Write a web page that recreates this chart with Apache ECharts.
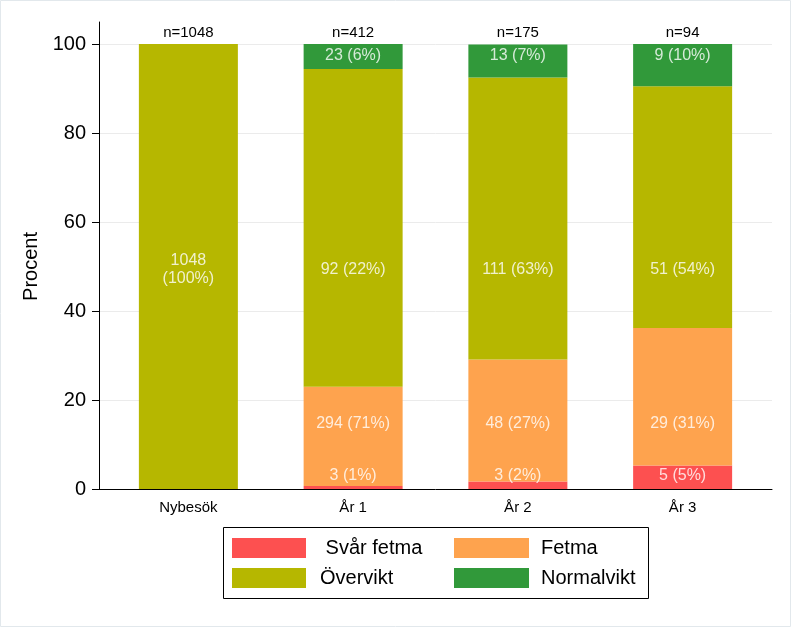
<!DOCTYPE html>
<html><head><meta charset="utf-8">
<script src="https://cdn.jsdelivr.net/npm/echarts@6/dist/echarts.min.js"></script>
<style>html,body{margin:0;padding:0;background:#fff}#c{width:793px;height:628px}</style>
</head><body><div id="c"></div>
<script>
var categories = ['Nybesök', 'År 1', 'År 2', 'År 3'];
var nLabels = ['n=1048', 'n=412', 'n=175', 'n=94'];
var seriesNames = ['Svår fetma', 'Fetma', 'Övervikt', 'Normalvikt'];
var svarFetma = [null, 0.7, 1.7, 5.3];
var fetma = [null, 22.3, 27.4, 30.9];
var overvikt = [100, 71.4, 63.4, 54.3];
var normalvikt = [null, 5.6, 7.4, 9.6];
var svarLabels = ['', '3 (1%)', '3 (2%)', '5 (5%)'];
var fetmaLabels = ['', '294 (71%)', '48 (27%)', '29 (31%)'];
var overviktLabels = ['1048\n(100%)', '92 (22%)', '111 (63%)', '51 (54%)'];
var normalLabels = ['', '23 (6%)', '13 (7%)', '9 (10%)'];
var yTicks = [0, 20, 40, 60, 80, 100];

var colors = ['#fd5050', '#fea34e', '#b6b700', '#31993a'];
var labelLevel = [3.0, 14.6, 49.3, 97.3];
var values = [svarFetma, fetma, overvikt, normalvikt];
var labelTexts = [svarLabels, fetmaLabels, overviktLabels, normalLabels];
var FONT = 'Liberation Sans, Arial, sans-serif';

var series = [];
seriesNames.forEach(function (name, k) {
  series.push({
    name: name, type: 'bar', stack: 'total', barWidth: 99,
    xAxisIndex: 0, yAxisIndex: 0,
    itemStyle: { color: colors[k] },
    data: values[k], silent: true
  });
});
seriesNames.forEach(function (name, k) {
  var d = [];
  labelTexts[k].forEach(function (t, i) { if (t) d.push({ value: [i, labelLevel[k]], txt: t }); });
  series.push({
    type: 'scatter', xAxisIndex: 0, yAxisIndex: 0, symbolSize: 1,
    itemStyle: { color: 'rgba(0,0,0,0)' }, silent: true, z: 5,
    label: {
      show: true, position: 'inside', color: '#ffffff', fontSize: 16, lineHeight: 18,
      fontFamily: FONT,
      formatter: function (p) { return p.data.txt; }
    },
    data: d
  });
});

var chart = echarts.init(document.getElementById('c'), null, { renderer: 'canvas' });
chart.setOption({
  animation: false,
  backgroundColor: '#ffffff',
  grid: [
    { left: 106, right: 28, top: 44, bottom: 139 },
    { left: 99, right: 21, top: 44, bottom: 139 },
    { left: 99, right: 21, top: 22, bottom: 139 }
  ],
  xAxis: [
    { gridIndex: 0, type: 'category', data: categories, position: 'bottom',
      axisLine: { show: false }, axisTick: { show: false }, splitLine: { show: false },
      axisLabel: { color: '#000', fontSize: 15, fontFamily: FONT, margin: 11 } },
    { gridIndex: 0, type: 'category', data: nLabels, position: 'top',
      axisLine: { show: false }, axisTick: { show: false }, splitLine: { show: false },
      axisLabel: { color: '#000', fontSize: 15, fontFamily: FONT, margin: 4 } },
    { gridIndex: 1, type: 'value', min: 0, max: 1,
      axisLine: { show: true, lineStyle: { color: '#000', width: 1 } },
      axisTick: { show: false }, axisLabel: { show: false }, splitLine: { show: false } },
    { gridIndex: 2, type: 'value', min: 0, max: 1, show: false }
  ],
  yAxis: [
    { gridIndex: 0, type: 'value', min: 0, max: 100, show: false, splitLine: { show: false } },
    { gridIndex: 1, type: 'value', min: 0, max: 100, interval: 20,
      name: 'Procent', nameLocation: 'middle', nameGap: 55,
      nameTextStyle: { color: '#000', fontSize: 20, fontFamily: FONT },
      axisLine: { show: true, lineStyle: { color: '#000', width: 1 } },
      axisTick: { show: true, length: 7, lineStyle: { color: '#000' } },
      axisLabel: { color: '#000', fontSize: 20, fontFamily: FONT, margin: 13 },
      splitLine: { show: true, lineStyle: { color: '#ebebeb', width: 1 } } },
    { gridIndex: 2, type: 'value', min: 0, max: 105,
      axisLine: { show: true, lineStyle: { color: '#000', width: 1 } },
      axisTick: { show: false }, axisLabel: { show: false }, splitLine: { show: false } }
  ],
  legend: [
    { data: ['Svår fetma', 'Övervikt'], orient: 'vertical', left: 232, top: 538,
      padding: 0, itemWidth: 74, itemHeight: 20, itemGap: 10, icon: 'rect',
      formatter: function (n) { return n === 'Svår fetma' ? ' ' + n : n; },
      textStyle: { color: '#000', fontSize: 20, fontFamily: FONT, lineHeight: 20, padding: [0, 0, 0, 9] } },
    { data: ['Fetma', 'Normalvikt'], orient: 'vertical', left: 454, top: 538,
      padding: 0, itemWidth: 75, itemHeight: 20, itemGap: 10, icon: 'rect',
      textStyle: { color: '#000', fontSize: 20, fontFamily: FONT, lineHeight: 20, padding: [0, 0, 0, 7] } }
  ],
  graphic: [
    { type: 'rect', shape: { x: 223.5, y: 527.5, width: 425, height: 71 },
      style: { fill: 'none', stroke: '#000', lineWidth: 1 }, silent: true },
    { type: 'rect', shape: { x: 0.5, y: 0.5, width: 790, height: 626 },
      style: { fill: 'none', stroke: '#e2e8ec', lineWidth: 1 }, silent: true, z: -1 }
  ],
  series: series
});
</script>
</body></html>
